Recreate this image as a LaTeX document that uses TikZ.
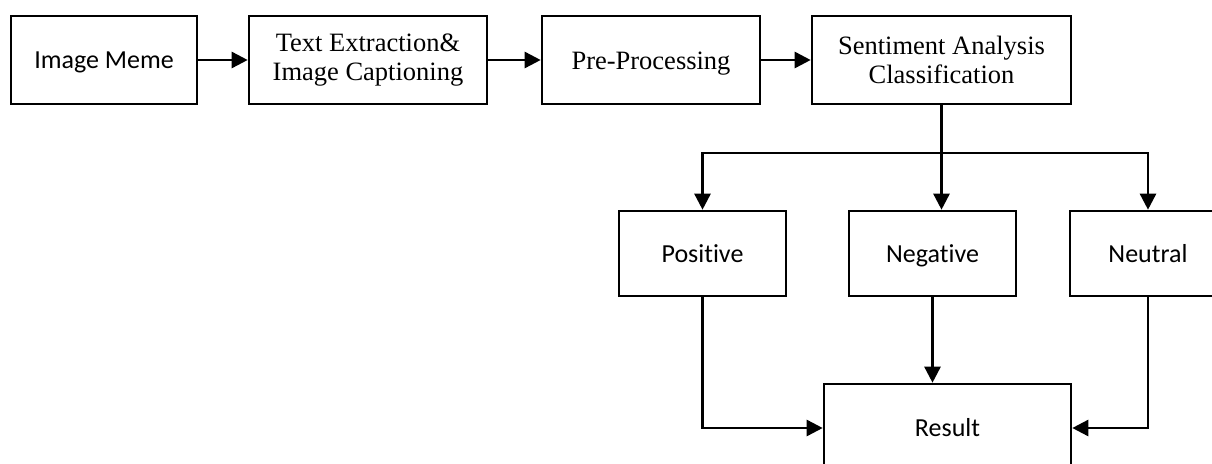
\documentclass[tikz,border=0pt]{standalone}
\usepackage{fontspec}
\setmainfont{Liberation Serif}
\newfontfamily\calib[Ligatures=NoCommon]{Carlito}
\usetikzlibrary{arrows.meta}
\begin{document}
\begin{tikzpicture}[x=1pt,y=-1pt,
  box/.style={draw=black,line width=2.6pt,rectangle,inner sep=0pt,align=center,minimum height=88pt},
  sbox/.style={box,font=\calib\fontsize{26}{29}\selectfont,text height=17pt,text depth=0pt},
  rbox/.style={box,font=\fontsize{26.5}{29.5}\selectfont},
  conn/.style={draw=black,line width=2.6pt},
  arr/.style={conn,-{Triangle[length=16pt,width=16pt]}}]
\useasboundingbox (0,0) rectangle (1212,463);
\clip (0,0) rectangle (1212,463);
\node[sbox,minimum width=186pt] (meme) at (104,60) {Image Meme};
\node[rbox,minimum width=238pt] (tec) at (368,60) {Text Extraction\&\\Image Captioning};
\node[rbox,minimum width=218pt,text height=18pt,text depth=0pt] (pre) at (651,60) {Pre-Processing};
\node[rbox,minimum width=259pt] (sa) at (941.5,60) {Sentiment Analysis\\Classification};
\node[sbox,minimum width=167pt,minimum height=85pt] (pos) at (702.5,253.5) {Positive};
\node[sbox,minimum width=167pt,minimum height=85pt] (neg) at (932.5,253.5) {Negative};
\node[sbox,minimum width=156pt,minimum height=85pt] (neu) at (1148,253.5) {Neutral};
\node[sbox,minimum width=247pt] (res) at (947.5,428) {Result};
\draw[arr] (meme) -- (tec);
\draw[arr] (tec) -- (pre);
\draw[arr] (pre) -- (sa);
\coordinate (hl) at (702.5,153);
\coordinate (hr) at (1148,153);
\draw[conn] (sa.south) -- (sa.south |- hl);
\draw[conn,line cap=rect] (hl) -- (hr);
\draw[arr] (hl) -- (pos.north);
\draw[arr] (sa.south |- hl) -- (sa.south |- neg.north);
\draw[arr] (hr) -- (neu.north);
\draw[arr] (pos.south) |- (res.west);
\draw[arr] (neg.south) -- (neg.south |- res.north);
\draw[arr] (neu.south) |- (res.east);
\end{tikzpicture}
\end{document}
